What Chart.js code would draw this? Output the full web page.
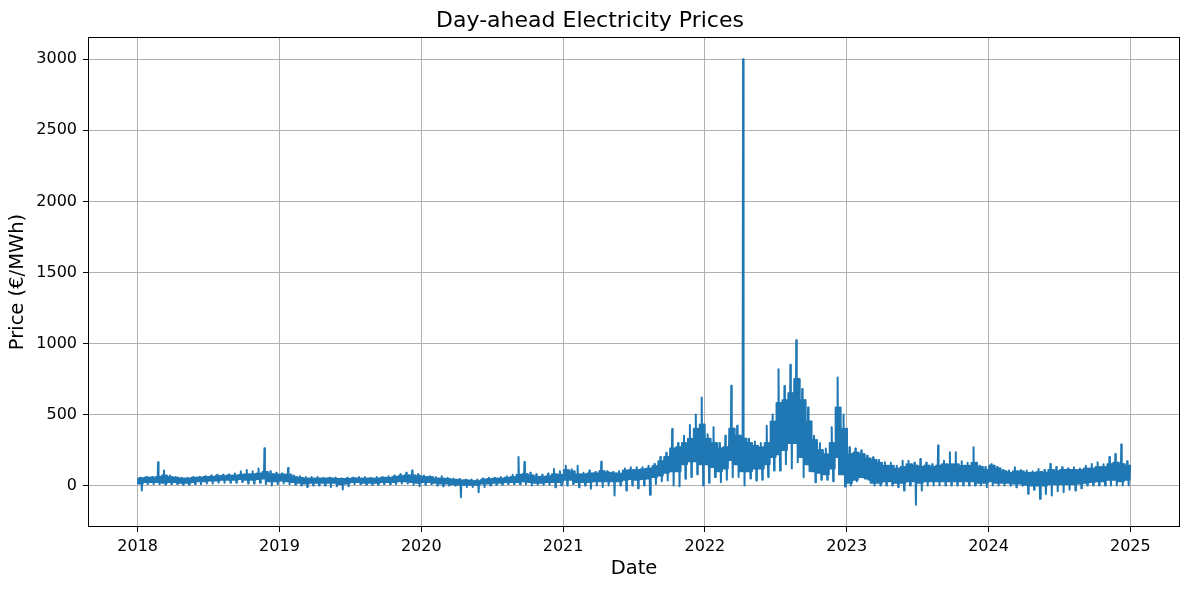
<!DOCTYPE html>
<html>
<head>
<meta charset="utf-8">
<script src="https://cdn.jsdelivr.net/npm/chart.js"></script>
<style>
  body { margin: 0; background: #fff; }
  #wrap { width: 1189px; height: 590px; }
</style>
</head>
<body>
<div id="wrap"><canvas id="priceChart" width="1189" height="590"></canvas></div>
<script>
// tick labels
const yearTicks = [2018, 2019, 2020, 2021, 2022, 2023, 2024, 2025]
const priceTicks = [0, 500, 1000, 1500, 2000, 2500, 3000]

// readings off the hourly series per half month, Jan 2018 .. Dec 2024 (EUR/MWh)
// one line per year, two values per month (1st-15th, 16th-end)

// lowest dip
const halfMin = [
  -35, 10, 10, 10, 5, 10, 10, 5, 5, 10, 10, 15, 15, 20, 20, 20, 20, 25, 15, 15, 20, 10, 0, 10,
  15, 10, 5, 0, -10, 0, 0, 0, -10, -5, -28, -5, 10, 10, 5, 5, 5, 10, 10, 10, 15, 15, 5, -5,
  5, 10, 0, -5, 0, 0, -82, -10, -10, -47, -10, 0, 5, 5, 10, 10, 10, 10, 0, 5, 5, 5, -12, 0,
  0, 10, -12, 0, -23, 0, -10, 0, -70, 0, -35, 0, -20, 0, -65, 10, 30, 35, 0, -5, 47, 60, 80, 0,
  20, 60, 23, 40, 58, 60, 0, 50, 35, 40, 60, 105, 105, 150, 120, 164, 58, 100, 23, 40, 40, 30, 80, -7,
  0, 30, 58, 40, 0, 0, 0, 0, -10, -35, 0, -135, -35, 0, 0, 0, 0, 0, 0, 0, 0, 0, 0, -12,
  0, 0, 0, 0, -12, 0, -58, -30, -94, -60, -70, -40, -47, -30, -35, -20, 0, 0, 0, 0, 0, 0, 0, 0
]
// bottom of the dense band
const halfLow = [
  15, 25, 25, 25, 20, 25, 25, 20, 20, 25, 30, 30, 35, 35, 40, 40, 40, 45, 40, 40, 45, 50, 30, 30,
  35, 30, 25, 20, 15, 20, 20, 20, 20, 20, 10, 15, 25, 25, 20, 20, 20, 25, 25, 25, 30, 30, 25, 20,
  25, 25, 20, 15, 15, 10, 5, 5, 5, 5, 15, 15, 20, 20, 25, 25, 25, 30, 25, 20, 20, 25, 25, 25,
  40, 40, 25, 25, 25, 30, 30, 30, 30, 30, 40, 45, 40, 45, 50, 60, 70, 90, 100, 100, 150, 170, 170, 150,
  150, 130, 100, 120, 180, 150, 100, 100, 120, 120, 150, 200, 220, 250, 300, 300, 200, 150, 100, 90, 80, 120, 200, 80,
  20, 40, 60, 50, 20, 20, 30, 30, 20, 20, 30, 30, 20, 30, 30, 30, 30, 30, 30, 30, 30, 30, 20, 20,
  30, 20, 20, 20, 15, 15, 5, 0, 0, 0, 10, 10, 10, 10, 10, 15, 20, 25, 30, 30, 40, 40, 30, 40
]
// top of the dense band
const halfHigh = [
  50, 55, 55, 60, 70, 60, 55, 50, 50, 55, 55, 60, 60, 65, 65, 70, 70, 75, 80, 80, 85, 95, 80, 75,
  75, 75, 60, 55, 50, 50, 50, 50, 50, 45, 45, 45, 50, 50, 50, 50, 50, 55, 55, 60, 65, 70, 70, 65,
  60, 60, 50, 50, 45, 40, 35, 35, 30, 30, 40, 45, 50, 50, 55, 60, 75, 80, 70, 60, 60, 65, 80, 75,
  110, 100, 80, 80, 85, 85, 100, 90, 85, 85, 105, 110, 110, 115, 120, 135, 170, 200, 260, 270, 300, 330, 400, 430,
  330, 300, 260, 270, 400, 350, 330, 300, 280, 270, 300, 450, 580, 600, 650, 750, 600, 450, 320, 250, 220, 300, 550, 400,
  220, 230, 220, 190, 180, 160, 140, 140, 120, 130, 150, 140, 130, 140, 130, 140, 150, 150, 150, 140, 140, 160, 130, 110,
  140, 120, 100, 90, 100, 100, 90, 90, 95, 90, 110, 100, 110, 110, 110, 110, 120, 120, 130, 130, 150, 160, 150, 140
]
// highest spike
const halfMax = [
  55, 60, 60, 164, 105, 70, 60, 55, 55, 60, 60, 65, 70, 75, 75, 80, 85, 100, 110, 100, 120, 262, 100, 90,
  85, 124, 70, 65, 60, 60, 60, 55, 55, 55, 50, 55, 55, 60, 60, 55, 60, 60, 65, 70, 80, 90, 105, 80,
  70, 65, 60, 65, 55, 50, 45, 40, 40, 40, 50, 55, 55, 60, 65, 75, 200, 165, 90, 80, 75, 85, 117, 100,
  140, 115, 140, 90, 105, 95, 168, 100, 95, 100, 120, 129, 129, 129, 140, 152, 200, 230, 398, 300, 350, 426, 500, 620,
  360, 410, 300, 350, 702, 420, 3000, 330, 310, 300, 420, 500, 819, 700, 850, 1023, 680, 550, 350, 300, 260, 410, 760, 500,
  269, 260, 246, 210, 199, 180, 164, 160, 140, 175, 175, 160, 187, 160, 150, 281, 175, 234, 234, 170, 160, 269, 140, 130,
  150, 130, 110, 105, 129, 110, 105, 100, 117, 110, 152, 130, 129, 120, 129, 120, 140, 152, 164, 150, 200, 222, 288, 170
]

// order in which the readings are visited inside each half month
const pattern = [halfLow, halfHigh, halfLow, halfHigh, halfLow, halfMax,
                 halfLow, halfHigh, halfMin, halfHigh, halfLow, halfHigh]

const points = []
halfMin.forEach((_, i) => {
  pattern.forEach((arr, k) => {
    points.push({ x: 2018 + (i + (k + 0.5) / pattern.length) / 24, y: arr[i] })
  })
})

const fontFamily = '"DejaVu Sans", sans-serif'

// black box round the plot area
const frame = {
  id: 'frame',
  afterDraw(chart) {
    const a = chart.chartArea
    const c = chart.ctx
    c.save()
    c.strokeStyle = '#000'
    c.lineWidth = 1
    c.strokeRect(Math.round(a.left) + 0.5, Math.round(a.top) + 0.5,
                 Math.round(a.right - a.left) - 1, Math.round(a.bottom - a.top) - 1)
    c.restore()
  }
}

const ctx = document.getElementById('priceChart').getContext('2d')
new Chart(ctx, {
  type: 'line',
  data: {
    datasets: [{
      data: points,
      borderColor: '#1f77b4',
      borderWidth: 2,
      borderJoinStyle: 'round',
      borderCapStyle: 'round',
      pointRadius: 0,
      tension: 0,
      fill: false
    }]
  },
  options: {
    responsive: false,
    animation: false,
    devicePixelRatio: 1,
    layout: { padding: { left: 0, right: 9, top: 0, bottom: 0 } },
    plugins: {
      legend: { display: false },
      tooltip: { enabled: false },
      title: {
        display: true,
        text: 'Day-ahead Electricity Prices',
        color: '#000',
        font: { family: fontFamily, size: 22, weight: 'normal' },
        padding: { top: 8, bottom: 2.6 }
      }
    },
    scales: {
      x: {
        type: 'linear',
        min: 2017.65,
        max: 2025.35,
        afterBuildTicks: s => { s.ticks = yearTicks.map(v => ({ value: v })) },
        afterFit: s => { s.height = 63 },
        ticks: {
          callback: v => String(v),
          color: '#000',
          font: { family: fontFamily, size: 16 },
          padding: 5,
          maxRotation: 0,
          autoSkip: false
        },
        grid: { color: '#b0b0b0', lineWidth: 1, tickColor: '#000', tickLength: 5 },
        border: { display: false },
        title: {
          display: true,
          text: 'Date',
          color: '#000',
          font: { family: fontFamily, size: 19.5 },
          padding: { top: 0, bottom: 9 }
        }
      },
      y: {
        type: 'linear',
        min: -292,
        max: 3157,
        afterBuildTicks: s => { s.ticks = priceTicks.map(v => ({ value: v })) },
        afterFit: s => { s.width = 88 },
        ticks: {
          callback: v => String(v),
          color: '#000',
          font: { family: fontFamily, size: 16 },
          padding: 6,
          autoSkip: false
        },
        grid: { color: '#b0b0b0', lineWidth: 1, tickColor: '#000', tickLength: 5 },
        border: { display: false },
        title: {
          display: true,
          text: 'Price (€/MWh)',
          color: '#000',
          font: { family: fontFamily, size: 19.5 },
          padding: { top: 6, bottom: 0 }
        }
      }
    }
  },
  plugins: [frame]
})
</script>
</body>
</html>
